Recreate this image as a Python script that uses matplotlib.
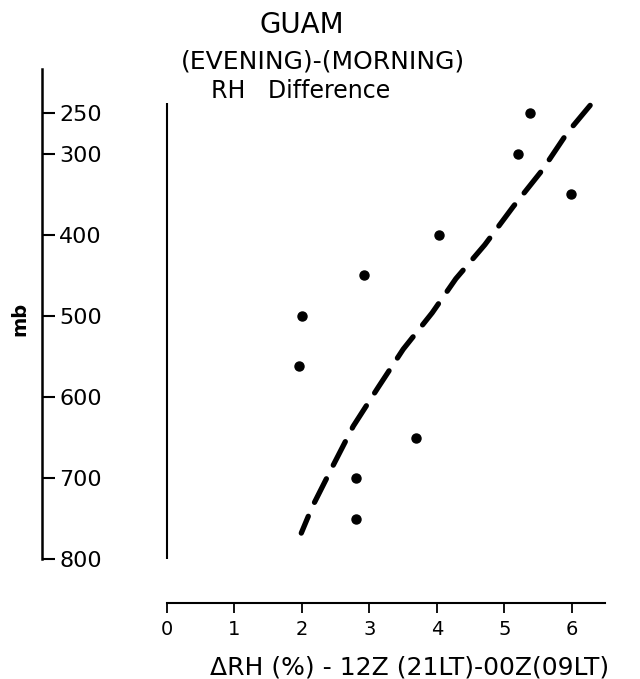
import numpy as np
import matplotlib
matplotlib.use('Agg')
import matplotlib.pyplot as plt

# values
pressure = [250, 300, 350, 400, 450, 500, 562, 650, 700, 750]   # mb
rh_diff = [5.38, 5.20, 5.98, 4.03, 2.92, 2.00, 1.96, 3.69, 2.80, 2.80]  # %

# hand drawn dashed curve through the points
curve_p = [240, 274, 320, 365, 412, 454, 496, 541, 588, 636, 688, 736, 768]
curve_x = [6.27, 5.93, 5.56, 5.13, 4.71, 4.28, 3.93, 3.50, 3.13, 2.76, 2.44, 2.15, 1.99]

p_ticks = [250, 300, 400, 500, 600, 700, 800]
x_ticks = [0, 1, 2, 3, 4, 5, 6]

# zero line of the RH difference
zero_line = (237, 800)

plt.rcParams['font.family'] = ['DejaVu Sans']
plt.rcParams['lines.scale_dashes'] = False

W, H = 640, 679
fig = plt.figure(figsize=(W / 100, H / 100), dpi=100)

def fx(px):
    return px / W

def fy(py):
    return 1 - py / H

ax = fig.add_axes([fx(42), fy(603), fx(605) - fx(42), fy(69) - fy(603)])
ax.set_xlim(-1.852, 6.49)
ax.set_ylim(854.3, 195.1)

for s in ['top', 'right']:
    ax.spines[s].set_visible(False)
ax.spines['left'].set_bounds(800, 195.1)
ax.spines['left'].set_linewidth(1.8)
ax.spines['bottom'].set_bounds(0, 6.49)
ax.spines['bottom'].set_linewidth(1.5)

ax.set_yticks(p_ticks)
ax.set_yticklabels([str(p) for p in p_ticks])
ax.tick_params(axis='y', direction='in', length=9.5, width=1.5, pad=-12.5, labelsize=16)
plt.setp(ax.get_yticklabels(), ha='left')

ax.set_xticks(x_ticks)
ax.set_xticklabels([str(v) for v in x_ticks])
ax.tick_params(axis='x', direction='out', length=7, width=1.3, pad=5, labelsize=14)

# zero line
ax.vlines(0, zero_line[0], zero_line[1], color='black', lw=1.5)

# observations
ax.plot(rh_diff, pressure, 'o', color='black', ms=6.5, mec='black')

# dashed curve
ax.plot(curve_x, curve_p, color='black', lw=3.8, dashes=(19, 11),
        solid_capstyle='round', dash_capstyle='round')

# titles
fig.text(fx(302), fy(25), 'GUAM', ha='center', va='center', fontsize=20)
fig.text(fx(323), fy(61), '(EVENING)-(MORNING)', ha='center', va='center', fontsize=18)
fig.text(fx(301), fy(91), 'RH   Difference', ha='center', va='center', fontsize=17)

fig.text(fx(20), fy(319), 'mb', rotation=90, ha='center', va='center',
         fontsize=14, fontweight='bold')
fig.text(fx(410), fy(668), '\u0394RH (%) - 12Z (21LT)-00Z(09LT)', ha='center',
         va='center', fontsize=18)

fig.savefig('out.png', dpi=100)
